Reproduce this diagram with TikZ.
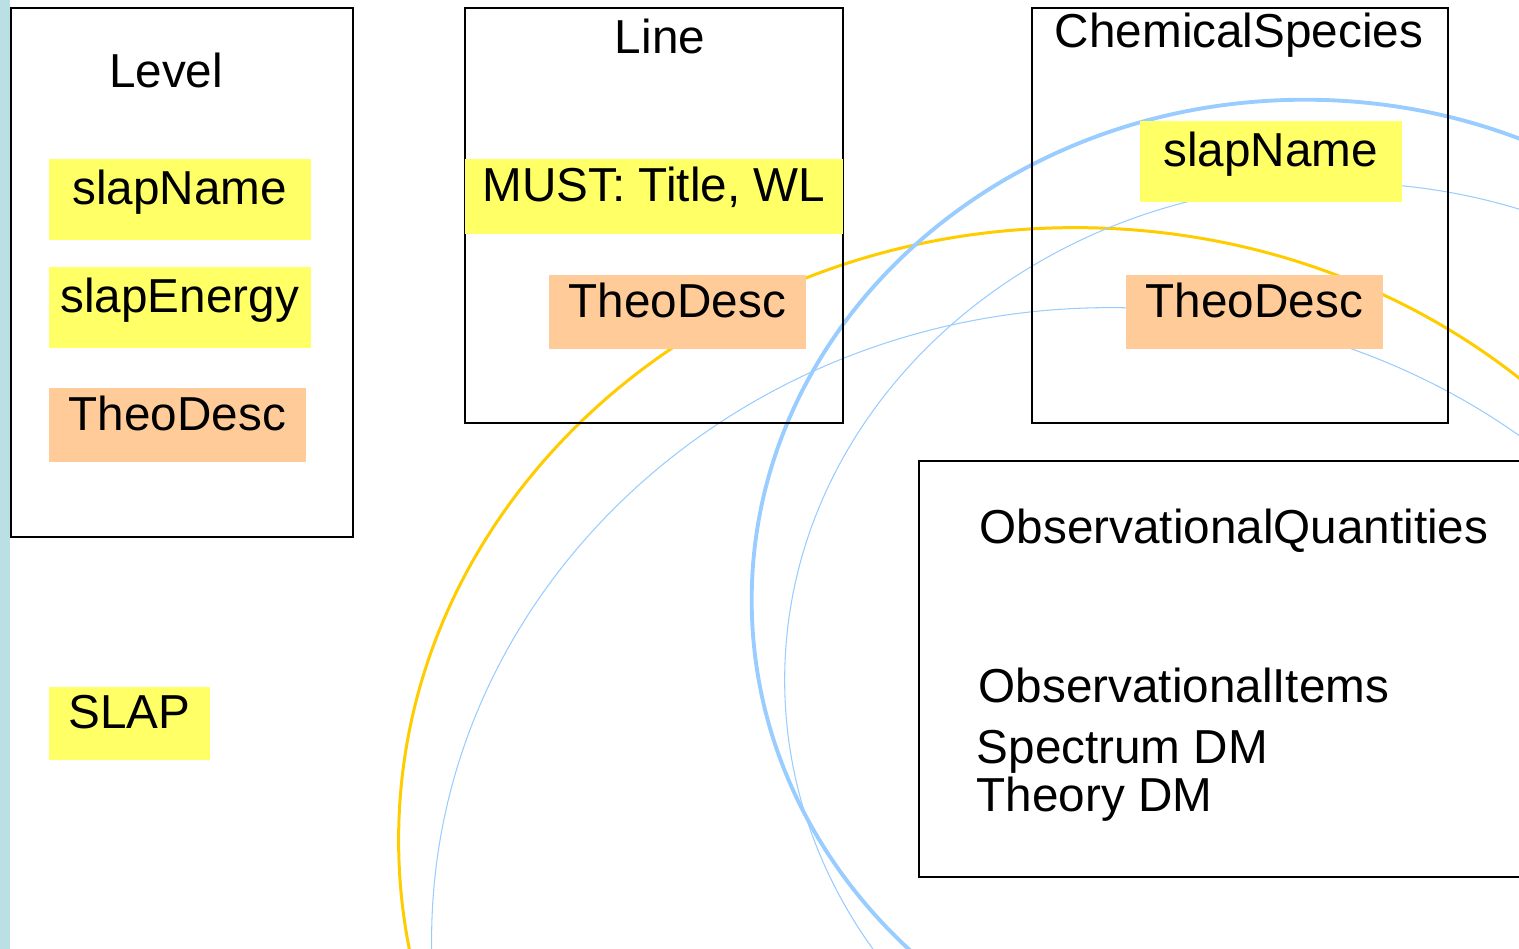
\documentclass[tikz,border=0pt]{standalone}
\usepackage{fontspec}
\setmainfont{Liberation Sans}
\definecolor{fieldyellow}{HTML}{FFFF66}
\definecolor{fieldorange}{HTML}{FFCC99}
\definecolor{arcgold}{HTML}{FFCC00}
\definecolor{arcblue}{HTML}{99CCFF}
\definecolor{stripblue}{HTML}{BBE0E3}
\begin{document}
\begin{tikzpicture}[x=0.01cm,y=-0.01cm,
  every node/.style={font=\fontsize{13.55pt}{16pt}\selectfont},
  classbox/.style={draw=black,line width=0.6pt,anchor=north west,inner sep=0pt},
  field/.style={anchor=north west,inner sep=0pt,text height=0.34cm,text depth=0.23cm},
  slapfield/.style={field,fill=fieldyellow},
  theofield/.style={field,fill=fieldorange},
  title/.style={anchor=base,inner sep=0pt},
  item/.style={anchor=base west,inner sep=0pt}]
  \useasboundingbox (0,0) rectangle (1519,949);
  \clip (0,0) rectangle (1519,949);
  \fill[stripblue] (0,0) rectangle (10,949);

  % background arcs
  \draw[arcgold,line width=0.85pt] (1075,840) ellipse [x radius=6.76cm, y radius=6.12cm];
  \draw[arcblue,line width=0.3pt] (1110,940) ellipse [x radius=6.78cm, y radius=6.32cm];
  \draw[arcblue,line width=1.1pt] (1305,600) ellipse [x radius=5.53cm, y radius=5cm];
  \draw[arcblue,line width=0.3pt] (1340,680) ellipse [x radius=5.55cm, y radius=4.97cm];

  % Level
  \node[classbox,minimum width=3.42cm,minimum height=5.29cm] (level) at (10,7) {};
  \node[title] (leveltitle) at (166,88) {Level};
  \node[slapfield,minimum width=2.62cm,minimum height=0.81cm] (levelname) at (48,158) {slapName};
  \node[slapfield,minimum width=2.62cm,minimum height=0.81cm] (levelenergy) at (48,266) {slapEnergy};
  \node[theofield,minimum width=2.57cm,minimum height=0.74cm] (leveltheo) at (48,387) {TheoDesc};
  \node[slapfield,minimum width=1.61cm,minimum height=0.73cm] (slap) at (48,686) {SLAP};

  % Line
  \node[classbox,minimum width=3.78cm,minimum height=4.15cm] (line) at (464,7) {};
  \node[title] (linetitle) at (660,54) {Line};
  \node[slapfield,minimum width=3.78cm,minimum height=0.75cm] (linemust) at (464,158) {MUST: Title, WL};
  \node[theofield,minimum width=2.57cm,minimum height=0.74cm] (linetheo) at (548,274) {TheoDesc};

  % ChemicalSpecies
  \node[classbox,minimum width=4.16cm,minimum height=4.15cm] (species) at (1031,7) {};
  \node[title] (speciestitle) at (1239,48) {ChemicalSpecies};
  \node[slapfield,minimum width=2.62cm,minimum height=0.81cm] (speciesname) at (1139,120) {slapName};
  \node[theofield,minimum width=2.57cm,minimum height=0.74cm] (speciestheo) at (1125,274) {TheoDesc};

  % ObservationalQuantities
  \node[classbox,minimum width=6.3cm,minimum height=4.16cm] (obs) at (918,460) {};
  \node[item] (obsquant) at (979,543) {ObservationalQuantities};
  \node[item] (obsitems) at (978,702) {ObservationalItems};
  \node[item] (spectrum) at (976,763) {Spectrum DM};
  \node[item] (theory) at (976,811) {Theory DM};
\end{tikzpicture}
\end{document}
